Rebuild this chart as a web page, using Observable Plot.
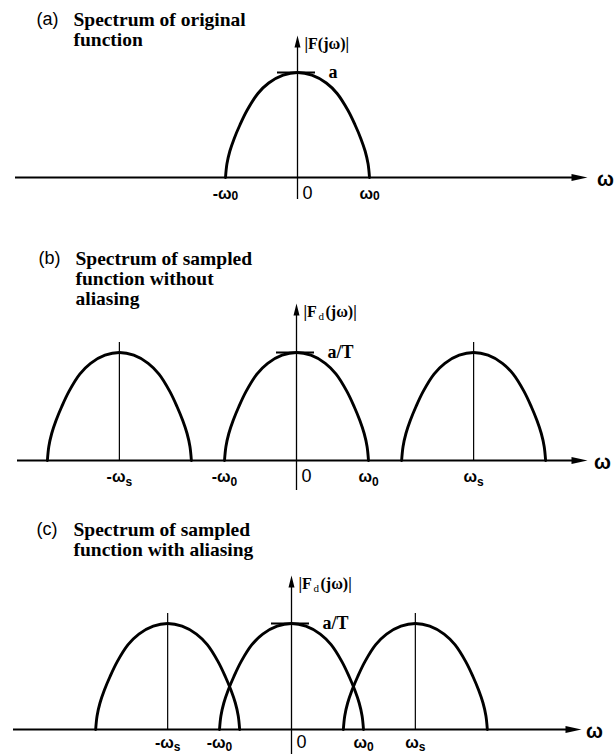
<!DOCTYPE html>
<html>
<head>
<meta charset="utf-8">
<script src="https://cdn.jsdelivr.net/npm/d3@7"></script>
<script src="https://cdn.jsdelivr.net/npm/@observablehq/plot@0.6"></script>
<style>
  body { margin: 0; background: #fff; }
  #chart { width: 615px; }
  #chart svg { display: block; }
</style>
</head>
<body>
<div id="chart"></div>
<script>
// Magnitude profile of one spectral lobe, offset in units of ω0, level in units of the peak
const profileOffset = [-1, -0.98, -0.94, -0.88, -0.8, -0.7, -0.55, -0.4, -0.2, 0, 0.2, 0.4, 0.55, 0.7, 0.8, 0.88, 0.94, 0.98, 1];
const profileLevel  = [0, 0.13, 0.25, 0.37, 0.5, 0.64, 0.8, 0.9, 0.975, 1, 0.975, 0.9, 0.8, 0.64, 0.5, 0.37, 0.25, 0.13, 0];

// Lobe centres (in units of ω0) for each spectrum
const lobesA = [0];
const lobesB = [-2.46, 0, 2.46];   // ωs well above 2ω0: no overlap
const lobesC = [-1.72, 0, 1.72];   // ωs below 2ω0: lobes overlap

// Frequency tick positions and labels
const ticksA = [-1, 1];
const tickLabelsA = ["-ω₀", "ω₀"];
const ticksB = [-2.46, -1, 1, 2.46];
const tickLabelsB = ["-ωₛ", "-ω₀", "ω₀", "ωₛ"];
const ticksC = [-1.72, -1, 1, 1.72];
const tickLabelsC = ["-ωₛ", "-ω₀", "ω₀", "ωₛ"];

// Text
const titlesA = ["(a)", "Spectrum of original\nfunction"];
const titlesB = ["(b)", "Spectrum of sampled\nfunction without\naliasing"];
const titlesC = ["(c)", "Spectrum of sampled\nfunction with aliasing"];
const peakLabelA = "a";
const peakLabelB = "a/T";
const peakLabelC = "a/T";

// ---- drawing ----
const UNIT = 72; // pixels per ω0
const SERIF = "'Liberation Serif', 'DejaVu Serif', serif";
const SANS = "'Liberation Sans', Arial, 'DejaVu Sans', sans-serif";
const SUBSCRIPTS = {"₀": "0", "ₛ": "s"};

const arrowRight = {draw(ctx) { ctx.moveTo(0, 0); ctx.lineTo(-16, -3.6); ctx.lineTo(-16, 3.6); ctx.closePath(); }};
const arrowUp = {draw(ctx) { ctx.moveTo(0, 0); ctx.lineTo(-3, 12); ctx.lineTo(3, 12); ctx.closePath(); }};

function panel(cfg) {
  const ux = px => (px - cfg.center) / UNIT;                      // pixel -> ω units
  const uy = py => (cfg.axisY - py) / (cfg.axisY - cfg.peakY);    // pixel -> level units
  const curves = cfg.lobes.flatMap((c, k) =>
    profileOffset.map((o, i) => ({w: c + o, m: profileLevel[i], k})));
  const side = cfg.lobes.filter(c => c !== 0);
  const ticks = cfg.ticks.map((t, i) => ({w: t, label: cfg.tickLabels[i]}));

  const marks = [
    // frequency axis
    Plot.ruleY([0], {x1: ux(cfg.xStart), x2: ux(cfg.xEnd - 8), stroke: "#000", strokeWidth: 2}),
    Plot.dot([{w: ux(cfg.xEnd), m: 0}], {x: "w", y: "m", symbol: arrowRight, r: 5, fill: "#000", stroke: null}),
    Plot.text(["ω"], {x: ux(cfg.omegaX), y: 0, dy: cfg.omegaDy, fontFamily: SANS, fontWeight: "bold", fontSize: 20, fill: "#000"}),
    // magnitude axis
    Plot.ruleX([0], {y1: uy(cfg.vBottom), y2: uy(cfg.vTop + 6), stroke: "#000", strokeWidth: 1.3}),
    Plot.dot([{w: 0, m: uy(cfg.vTop)}], {x: "w", y: "m", symbol: arrowUp, r: 5, fill: "#000", stroke: null}),
    // replica markers at ±ωs
    Plot.ruleX(side, {y1: 0, y2: uy(cfg.sideTop), stroke: "#000", strokeWidth: 1.2}),
    // spectral lobes
    Plot.line(curves, {x: "w", y: "m", z: "k", curve: "catmull-rom", stroke: "#000", strokeWidth: 2.9}),
    // peak marker and its value
    Plot.ruleY([1], {x1: ux(cfg.center - 20), x2: ux(cfg.center + 18), stroke: "#000", strokeWidth: 2.2}),
    Plot.text([cfg.peakLabel], {x: 0, y: 1, dx: 31, textAnchor: "start", fontFamily: SERIF, fontWeight: "bold", fontSize: 18, fill: "#000"}),
    // frequency tick labels
    Plot.text(ticks, {x: "w", y: 0, text: "label", dy: cfg.tickDy, fontFamily: SANS, fontWeight: "bold", fontSize: 16, fill: "#000"}),
    Plot.text(["0"], {x: 0, y: 0, dx: 10, dy: cfg.tickDy, fontFamily: SANS, fontSize: 18, fill: "#000"}),
    // titles
    Plot.text([cfg.titles[0]], {frameAnchor: "top-left", dx: cfg.titleX - 37, dy: cfg.titleY + 1, textAnchor: "start", lineAnchor: "top", fontFamily: SANS, fontSize: 18, fill: "#000"}),
    Plot.text([cfg.titles[1]], {frameAnchor: "top-left", dx: cfg.titleX, dy: cfg.titleY, textAnchor: "start", lineAnchor: "top", lineHeight: 1.04, fontFamily: SERIF, fontWeight: "bold", fontSize: 19.5, fill: "#000"})
  ];

  // magnitude axis label, with optional subscript
  const lx = 7, ly = uy(cfg.vTop);
  if (cfg.sub) {
    marks.push(
      Plot.text(["|F"], {x: 0, y: ly, dx: lx, dy: 8, textAnchor: "start", fontFamily: SERIF, fontWeight: "bold", fontSize: 16, fill: "#000"}),
      Plot.text([cfg.sub], {x: 0, y: ly, dx: lx + 15, dy: 13, textAnchor: "start", fontFamily: SERIF, fontSize: 11, fill: "#000"}),
      Plot.text(["(jω)|"], {x: 0, y: ly, dx: lx + 22, dy: 8, textAnchor: "start", fontFamily: SERIF, fontWeight: "bold", fontSize: 16, fill: "#000"})
    );
  } else {
    marks.push(Plot.text(["|F(jω)|"], {x: 0, y: ly, dx: lx, dy: 8, textAnchor: "start", fontFamily: SERIF, fontWeight: "bold", fontSize: 16, fill: "#000"}));
  }

  const svg = Plot.plot({
    width: 615,
    height: cfg.height,
    margin: 0,
    style: {background: "#fff", overflow: "visible"},
    x: {domain: [-1, 1], range: [cfg.center - UNIT, cfg.center + UNIT], axis: null},
    y: {domain: [0, 1], range: [cfg.axisY, cfg.peakY], axis: null},
    marks
  });

  // typeset trailing subscript characters of tick labels as real subscripts
  d3.select(svg).selectAll("text").each(function () {
    const t = this.textContent;
    const m = t.match(/^(.*?)([₀ₛ])$/);
    if (!m || this.children.length) return;
    this.textContent = m[1];
    d3.select(this).append("tspan")
      .attr("font-size", 12)
      .attr("dy", cfg.subShift)
      .text(SUBSCRIPTS[m[2]]);
  });
  return svg;
}

const chart = document.getElementById("chart");
chart.append(panel({
  height: 205, center: 297, axisY: 177, peakY: 72, xStart: 15, xEnd: 587, omegaX: 605, omegaDy: 2,
  vTop: 35, vBottom: 199, sideTop: 1, lobes: lobesA, ticks: ticksA, tickLabels: tickLabelsA, tickDy: 16,
  titles: titlesA, titleX: 73, titleY: 11, peakLabel: peakLabelA, subShift: 1
}));
chart.append(panel({
  height: 285, center: 296, axisY: 255, peakY: 147, xStart: 17, xEnd: 587, omegaX: 602, omegaDy: 2,
  vTop: 98, vBottom: 285, sideTop: 137, lobes: lobesB, ticks: ticksB, tickLabels: tickLabelsB, tickDy: 16,
  titles: titlesB, titleX: 75, titleY: 45, peakLabel: peakLabelB, sub: "d", subShift: 4
}));
chart.append(panel({
  height: 264, center: 291, axisY: 239, peakY: 133, xStart: 13, xEnd: 581, omegaX: 594, omegaDy: 2,
  vTop: 85, vBottom: 264, sideTop: 123, lobes: lobesC, ticks: ticksC, tickLabels: tickLabelsC, tickDy: 13,
  titles: titlesC, titleX: 73, titleY: 31, peakLabel: peakLabelC, sub: "d", subShift: 3
}));
</script>
</body>
</html>
